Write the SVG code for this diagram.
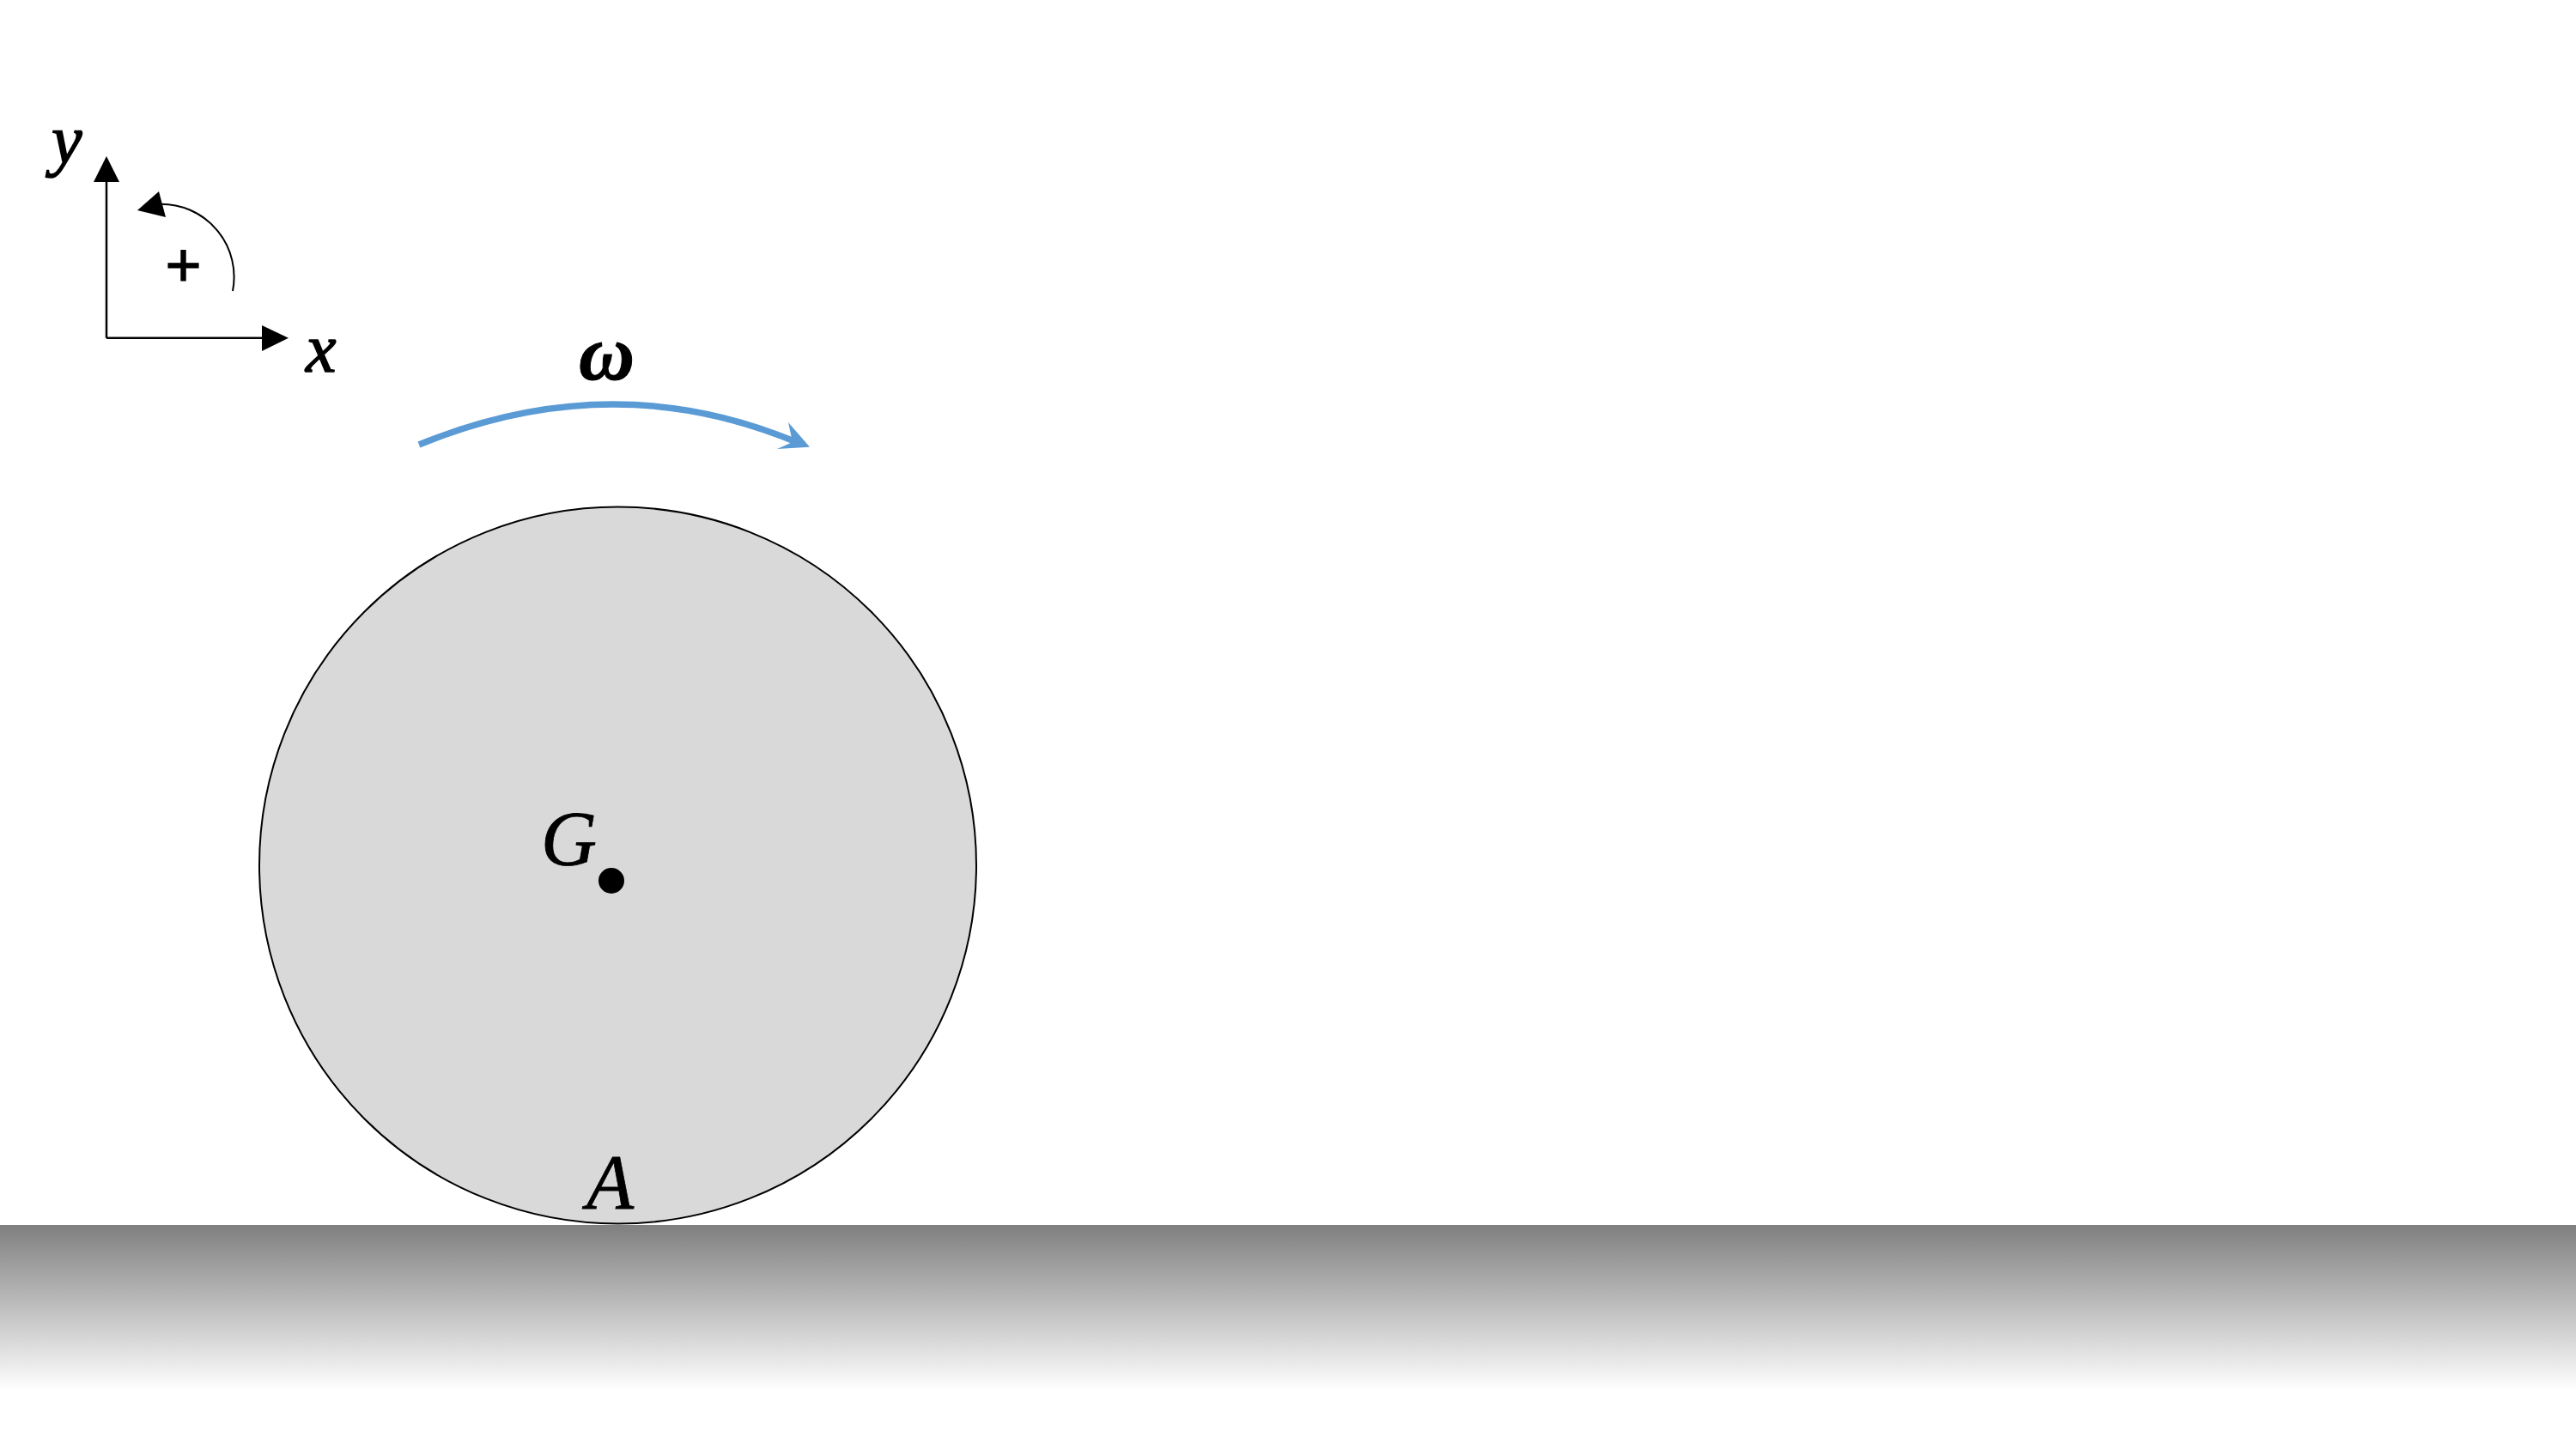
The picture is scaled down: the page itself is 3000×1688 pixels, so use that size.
<svg xmlns="http://www.w3.org/2000/svg" width="3000" height="1688" viewBox="0 0 3000 1688">
<style>
.m{font-family:"Liberation Serif","Times New Roman",serif;font-style:italic;font-size:90px;fill:#000}
.t{font-size:80px;stroke:#000;stroke-width:1.500}
.ln{fill:none;stroke:#000}
</style>
<defs>
<linearGradient id="g" x1="0" y1="0" x2="0" y2="1"><stop offset="0" stop-color="#7f7f7f"/><stop offset="1" stop-color="#fff"/></linearGradient>
</defs>
<rect width="3000" height="1688" fill="#fff"/>
<g id="ground"><rect x="0" y="1427" width="3000" height="193" fill="url(#g)"/></g>
<g id="disk">
<circle cx="719.500" cy="1008" r="417.500" fill="#d9d9d9" stroke="#000" stroke-width="2"/>
<circle cx="712" cy="1026" r="15" fill="#000"/>
<text class="m" x="630" y="1008" stroke="#000" stroke-width="0.800">G</text>
<text class="m" x="683" y="1408" stroke="#000" stroke-width="0.800">A</text>
</g>
<g id="connectors">
<path class="ln" stroke-width="2.500" d="M124 393.700V205"/>
<path d="M124 182L139 212H109Z"/>
<path class="ln" stroke-width="2.500" d="M124 393.700H310"/>
<path d="M336 393.700L305 379V409Z"/>
<path class="ln" stroke-width="2" d="M271 339A85 85 0 0 0 186 237.700"/>
<path d="M160 245L185 223L193 253Z"/>
<path fill="none" stroke="#5b9bd5" stroke-width="7.500" d="M488 518Q712 426 925 514"/>
<path fill="#5b9bd5" d="M943 520.700L918 492L923 515L905 523Z"/>
</g>
<g id="labels">
<text class="m t" x="60" y="190">y</text>
<text class="m t" x="356" y="433">x</text>
<text x="213.500" y="333" text-anchor="middle" font-family="Liberation Sans,sans-serif" font-size="72" stroke="#000" stroke-width="1.200" fill="#000">+</text>
<text class="m" x="674" y="442" font-weight="700" stroke="#000" stroke-width="1">ω</text>
</g>
</svg>
